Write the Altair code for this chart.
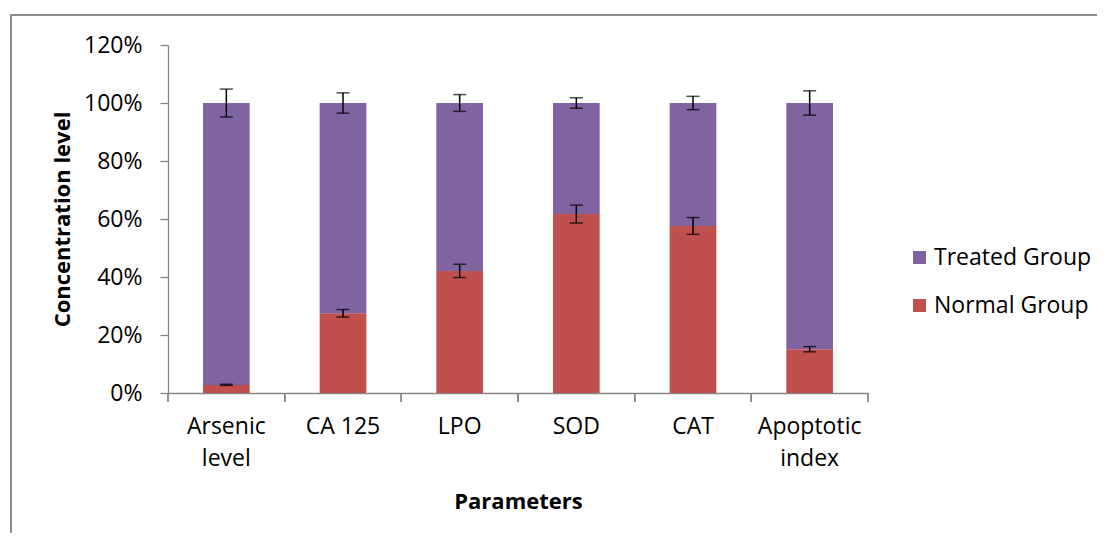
import altair as alt
import pandas as pd

categories = ["Arsenic\nlevel", "CA 125", "LPO", "SOD", "CAT", "Apoptotic\nindex"]
groups = ["Treated Group", "Normal Group"]
normal = [2.8, 27.5, 42.1, 61.7, 57.6, 15.1]
normal_err = [0.2, 1.3, 2.3, 3.1, 2.9, 0.9]
treated_err = [4.8, 3.5, 2.9, 1.8, 2.3, 4.2]
y_ticks = [0, 20, 40, 60, 80, 100, 120]
colors = ["#8064A2", "#C0504D"]

rows = []
for c, n, ne, te in zip(categories, normal, normal_err, treated_err):
    rows.append({"cat": c, "group": "Normal Group", "value": n, "ord": 0,
                 "top": n, "lo": n - ne, "hi": n + ne})
    rows.append({"cat": c, "group": "Treated Group", "value": 100 - n, "ord": 1,
                 "top": 100, "lo": 100 - te, "hi": 100 + te})
df = pd.DataFrame(rows)

FONT = "Open Sans"
W, H = 700, 348

xscale = alt.Scale(paddingInner=0, paddingOuter=0)
yscale = alt.Scale(domain=[0, 120], nice=False)

xaxis = alt.Axis(title="Parameters", labelAngle=0, ticks=False,
                 labelExpr="split(datum.label, '\\n')",
                 labelFontSize=23, labelFont=FONT, labelColor="#000000",
                 labelLineHeight=32, labelPadding=22, labelBaseline="top",
                 domainColor="#868686", domainWidth=1.3,
                 titleFont=FONT, titleFontSize=22, titleFontWeight="bold",
                 titleColor="#000000", titleY=108, titleBaseline="middle")
yaxis = alt.Axis(title="Concentration level", values=y_ticks,
                 labelExpr="datum.value + '%'", grid=False,
                 tickSize=8, tickColor="#868686", tickWidth=1.3,
                 domainColor="#868686", domainWidth=1.3,
                 labelFontSize=23, labelFont=FONT, labelColor="#000000",
                 labelPadding=18,
                 titleFont=FONT, titleFontSize=22, titleFontWeight="bold",
                 titleColor="#000000", titleX=-106, titleY=174,
                 titleBaseline="middle", titleAngle=-90)

def X(**kw):
    return alt.X("cat:N", sort=categories, scale=xscale, axis=xaxis, **kw)

def Y(field, **kw):
    return alt.Y(field, scale=yscale, axis=yaxis, **kw)

base = alt.Chart(df)

bars = base.mark_bar(width=alt.RelativeBandSize(0.4)).encode(
    x=X(),
    y=Y("value:Q", stack="zero"),
    color=alt.Color("group:N", scale=alt.Scale(domain=groups, range=colors),
                    legend=alt.Legend(title=None, orient="none", legendX=740, legendY=201,
                                      symbolType="square", symbolSize=169,
                                      symbolStrokeWidth=0, labelFontSize=23,
                                      labelFont=FONT, labelColor="#000000",
                                      labelOffset=3, rowPadding=24)),
    order=alt.Order("ord:Q"),
)

err_rule = base.mark_rule(color="black", strokeWidth=1.5).encode(
    x=X(), y=Y("lo:Q"), y2="hi:Q",
)
cap_lo = base.mark_tick(color="black", size=13, thickness=1.5).encode(
    x=X(), y=Y("lo:Q"),
)
cap_hi = base.mark_tick(color="black", size=13, thickness=1.5).encode(
    x=X(), y=Y("hi:Q"),
)

tick_start = base.mark_rule(color="#868686", strokeWidth=1.3).encode(
    x=X(bandPosition=0), y=alt.value(H), y2=alt.value(H + 9),
)
tick_end = base.mark_rule(color="#868686", strokeWidth=1.3).encode(
    x=X(bandPosition=1), y=alt.value(H), y2=alt.value(H + 9),
)

border = alt.Chart(pd.DataFrame({"a": [0]})).mark_rect(
    filled=False, stroke="#8c8c8c", strokeWidth=2
).encode(
    x=alt.value(-157), x2=alt.value(1000), y=alt.value(-30), y2=alt.value(600)
)

chart = alt.layer(border, bars, err_rule, cap_lo, cap_hi, tick_start, tick_end).properties(
    width=W, height=H,
    background="white",
    autosize=alt.AutoSizeParams(type="none"),
    padding={"left": 160, "top": 37, "right": 229, "bottom": 140},
).configure_view(stroke=None)

chart.save("out.html", embed_options={"renderer": "svg", "actions": False})
